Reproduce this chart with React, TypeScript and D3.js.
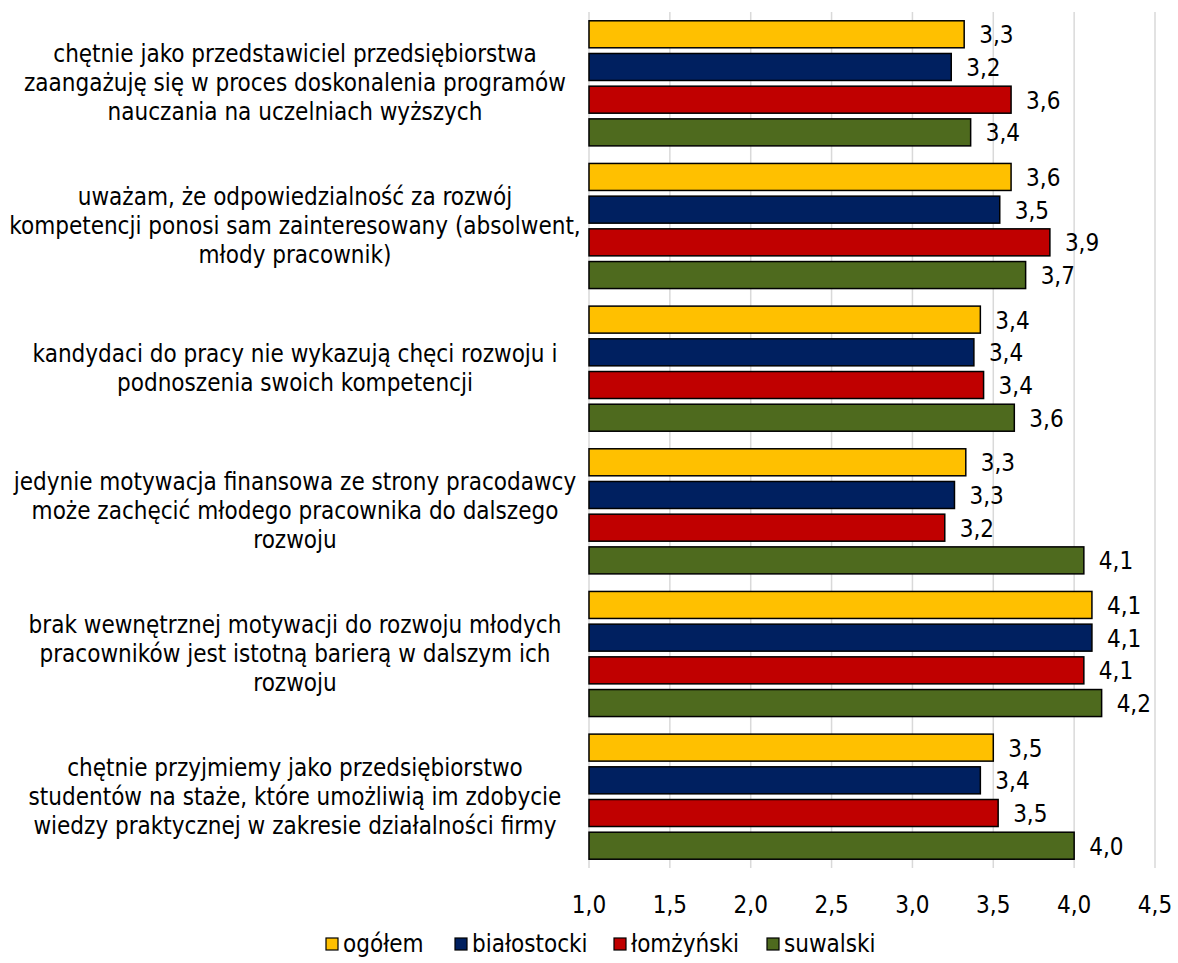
import React from "react";
import * as d3 from "d3";

const categories: string[][] = [
  ["chętnie jako przedstawiciel przedsiębiorstwa", "zaangażuję się w proces doskonalenia programów", "nauczania na uczelniach wyższych"],
  ["uważam, że odpowiedzialność za rozwój", "kompetencji ponosi sam zainteresowany (absolwent,", "młody pracownik)"],
  ["kandydaci do pracy nie wykazują chęci rozwoju i", "podnoszenia swoich kompetencji"],
  ["jedynie motywacja finansowa ze strony pracodawcy", "może zachęcić młodego pracownika do dalszego", "rozwoju"],
  ["brak wewnętrznej motywacji do rozwoju młodych", "pracowników jest istotną barierą w dalszym ich", "rozwoju"],
  ["chętnie przyjmiemy jako przedsiębiorstwo", "studentów na staże, które umożliwią im zdobycie", "wiedzy praktycznej w zakresie działalności firmy"],
];

const seriesNames = ["ogółem", "białostocki", "łomżyński", "suwalski"];
const seriesColors = ["#FFC000", "#002060", "#C00000", "#4E6A1E"];

const ogolem = [3.32, 3.61, 3.42, 3.33, 4.11, 3.5];
const bialostocki = [3.24, 3.54, 3.38, 3.26, 4.11, 3.42];
const lomzynski = [3.61, 3.85, 3.44, 3.2, 4.06, 3.53];
const suwalski = [3.36, 3.7, 3.63, 4.06, 4.17, 4.0];
const seriesValues = [ogolem, bialostocki, lomzynski, suwalski];

const xTicks = [1.0, 1.5, 2.0, 2.5, 3.0, 3.5, 4.0, 4.5];

const FONT = "Tahoma, 'DejaVu Sans Condensed', 'DejaVu Sans', sans-serif";
const FS = 24;

export default function App() {
  const W = 1178, H = 963;
  const plotLeft = 589, plotRight = 1155, plotTop = 12, plotBottom = 868;
  const x = d3.scaleLinear().domain([1, 4.5]).range([plotLeft, plotRight]);
  const y = d3.scaleBand<number>().domain(d3.range(categories.length)).range([plotTop, plotBottom]).padding(0);
  const bw = y.bandwidth();
  const innerSpan = 125.1;
  const inner = d3.scaleBand<number>().domain(d3.range(seriesNames.length))
    .range([(bw - innerSpan) / 2, (bw + innerSpan) / 2]).paddingInner(0.174).paddingOuter(0);
  const fmt = (v: number) => v.toFixed(1).replace(".", ",");

  const legendX = [326, 455, 614, 767];

  return (
    <svg width={W} height={H} style={{ position: "absolute", left: 0, top: 0, background: "#fff" }} fontFamily={FONT}>
      {xTicks.map((t) => (
        <line key={"g" + t} x1={x(t)} x2={x(t)} y1={plotTop} y2={plotBottom} stroke="#D9D9D9" strokeWidth={1.5} />
      ))}
      {categories.map((lines, ci) => {
        const cy = (y(ci) as number) + bw / 2;
        const lh = 29;
        const y0 = cy - ((lines.length - 1) * lh) / 2;
        return (
          <g key={"c" + ci}>
            {lines.map((ln, li) => (
              <text key={li} x={295} y={y0 + li * lh} textAnchor="middle" dominantBaseline="central" fontSize={FS} fill="#000">
                {ln}
              </text>
            ))}
            {seriesValues.map((vals, si) => {
              const by = (y(ci) as number) + (inner(si) as number);
              const h = inner.bandwidth();
              return (
                <g key={si}>
                  <rect x={x(1)} y={by} width={x(vals[ci]) - x(1)} height={h} fill={seriesColors[si]} stroke="#000" strokeWidth={1.5} />
                  <text x={x(vals[ci]) + 15} y={by + h / 2 + 1} dominantBaseline="central" fontSize={FS} fill="#000">
                    {fmt(vals[ci])}
                  </text>
                </g>
              );
            })}
          </g>
        );
      })}
      {xTicks.map((t) => (
        <text key={"t" + t} x={x(t)} y={905} textAnchor="middle" dominantBaseline="central" fontSize={FS} fill="#000">
          {fmt(t)}
        </text>
      ))}
      {seriesNames.map((n, i) => (
        <g key={"l" + i}>
          <rect x={legendX[i]} y={938} width={12} height={12} fill={seriesColors[i]} stroke="#000" strokeWidth={1.2} />
          <text x={legendX[i] + 17} y={944} dominantBaseline="central" fontSize={FS} fill="#000">
            {n}
          </text>
        </g>
      ))}
    </svg>
  );
}
